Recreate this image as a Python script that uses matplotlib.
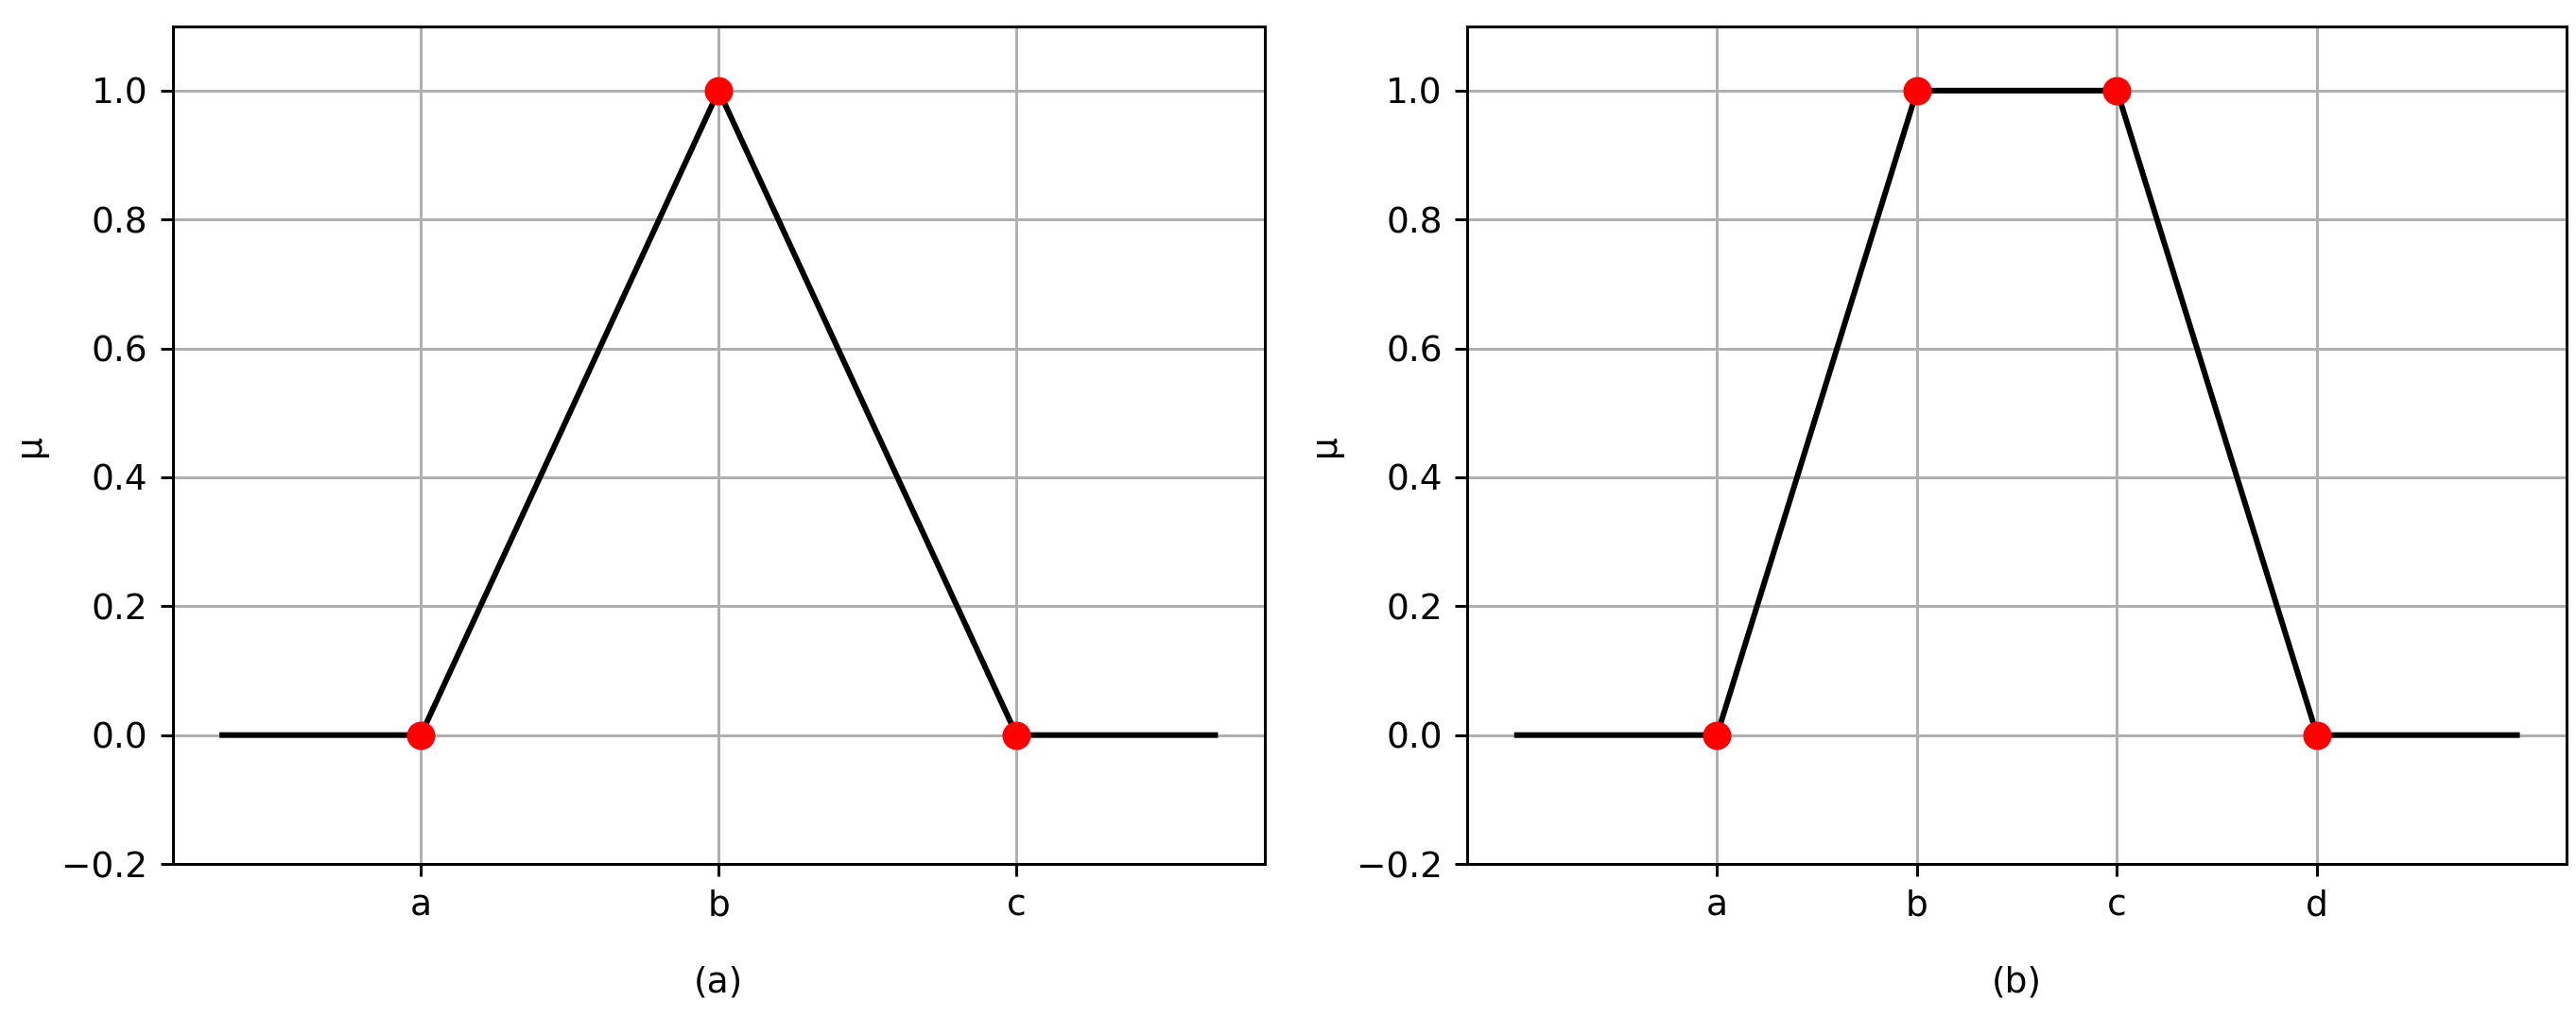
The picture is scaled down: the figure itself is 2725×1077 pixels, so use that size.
import matplotlib
matplotlib.use("Agg")
import matplotlib.pyplot as plt

# triangular membership function
tri_x = [0, 2, 5, 8, 10]
tri_mu = [0, 0, 1, 0, 0]
tri_pts_x = [2, 5, 8]
tri_pts_mu = [0, 1, 0]
tri_ticks = ['a', 'b', 'c']

# trapezoidal membership function
trap_x = [0, 2, 4, 6, 8, 10]
trap_mu = [0, 0, 1, 1, 0, 0]
trap_pts_x = [2, 4, 6, 8]
trap_pts_mu = [0, 1, 1, 0]
trap_ticks = ['a', 'b', 'c', 'd']

dpi = 270
fig = plt.figure(figsize=(2725 / dpi, 1077 / dpi), dpi=dpi)
ax1 = fig.add_axes([0.067, 0.1513, 0.424, 0.823])
ax2 = fig.add_axes([0.5695, 0.1513, 0.427, 0.823])

panels = [
    (ax1, tri_x, tri_mu, tri_pts_x, tri_pts_mu, tri_ticks, '(a)'),
    (ax2, trap_x, trap_mu, trap_pts_x, trap_pts_mu, trap_ticks, '(b)'),
]
for ax, x, mu, px, pmu, ticks, lab in panels:
    ax.plot(x, mu, color='black', linewidth=1.6)
    ax.plot(px, pmu, 'o', color='red', markersize=7)
    ax.set_xticks(px)
    ax.set_xticklabels(ticks)
    ax.set_ylim(-0.2, 1.1)
    ax.set_yticks([-0.2, 0.0, 0.2, 0.4, 0.6, 0.8, 1.0])
    ax.grid(True)
    ax.set_ylabel('μ')
    ax.set_xlabel(lab, labelpad=12)

fig.savefig('out.png', dpi=dpi)
